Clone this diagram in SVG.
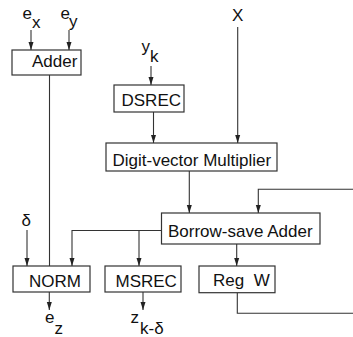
<svg xmlns="http://www.w3.org/2000/svg" width="353" height="337" viewBox="0 0 353 337">
<defs>
<marker id="ah" markerUnits="userSpaceOnUse" markerWidth="6" markerHeight="8" viewBox="0 0 6 8" refX="3" refY="8" orient="0">
<path d="M0.5,0 L5.5,0 L3,8 Z" fill="#222"/>
</marker>
<style>
.box{fill:#fff;stroke:#333;stroke-width:1.2}
.t{font-family:"Liberation Sans",Arial,sans-serif;font-size:17px;fill:#111;white-space:pre}
.c{fill:none;stroke:#333;stroke-width:1.1}
.a{marker-end:url(#ah)}
</style>
</defs>
<rect width="353" height="337" fill="#fff"/>
<g id="connectors">
<line class="c a" x1="31" y1="30" x2="31" y2="50"/>
<line class="c a" x1="69" y1="30" x2="69" y2="50"/>
<line class="c" x1="49.5" y1="75" x2="49.5" y2="266"/>
<line class="c a" x1="151" y1="66" x2="151" y2="85"/>
<line class="c a" x1="153.5" y1="112" x2="153.5" y2="143"/>
<line class="c a" x1="237.7" y1="27" x2="237.7" y2="143"/>
<line class="c a" x1="189.3" y1="171" x2="189.3" y2="213"/>
<polyline class="c a" points="353,189.3 258.3,189.3 258.3,213"/>
<polyline class="c a" points="161.5,230.5 72,230.5 72,266"/>
<line class="c a" x1="139" y1="230.5" x2="139" y2="266"/>
<line class="c a" x1="27" y1="230" x2="27" y2="266"/>
<line class="c a" x1="236.7" y1="244" x2="236.7" y2="266"/>
<polyline class="c" points="237.3,292.7 237.3,313.3 353,313.3"/>
<line class="c a" x1="49.3" y1="292" x2="49.3" y2="310"/>
<line class="c a" x1="143" y1="292" x2="143" y2="310"/>
</g>
<g id="adder">
<rect class="box" x="12" y="50" width="69" height="25"/>
<text class="t" x="32" y="67">Adder</text>
</g>
<g id="dsrec">
<rect class="box" x="114" y="85" width="70" height="27"/>
<text class="t" x="121.5" y="106">DSREC</text>
</g>
<g id="dvm">
<rect class="box" x="106" y="143" width="171" height="28"/>
<text class="t" x="112.5" y="165.5">Digit-vector Multiplier</text>
</g>
<g id="bsa">
<rect class="box" x="161.5" y="213" width="158.5" height="31"/>
<text class="t" x="168" y="237">Borrow-save Adder</text>
</g>
<g id="norm">
<rect class="box" x="13" y="266" width="77" height="26"/>
<text class="t" x="29" y="287">NORM</text>
</g>
<g id="msrec">
<rect class="box" x="105" y="266" width="76" height="26"/>
<text class="t" x="115.5" y="287">MSREC</text>
</g>
<g id="regw">
<rect class="box" x="199" y="266" width="76" height="26.7"/>
<text class="t" x="213" y="286">Reg  W</text>
</g>
<g id="labels">
<text class="t" x="22.5" y="19">e</text><text class="t" x="32" y="28">x</text>
<text class="t" x="60.5" y="19">e</text><text class="t" x="69" y="27">y</text>
<text class="t" x="141.5" y="52">y</text><text class="t" x="150" y="62">k</text>
<text class="t" x="232" y="21">X</text>
<text class="t" x="21.5" y="226">δ</text>
<text class="t" x="45" y="323">e</text><text class="t" x="54.5" y="334">z</text>
<text class="t" x="130.5" y="323">z</text><text class="t" x="140" y="334">k-δ</text>
</g>
</svg>
